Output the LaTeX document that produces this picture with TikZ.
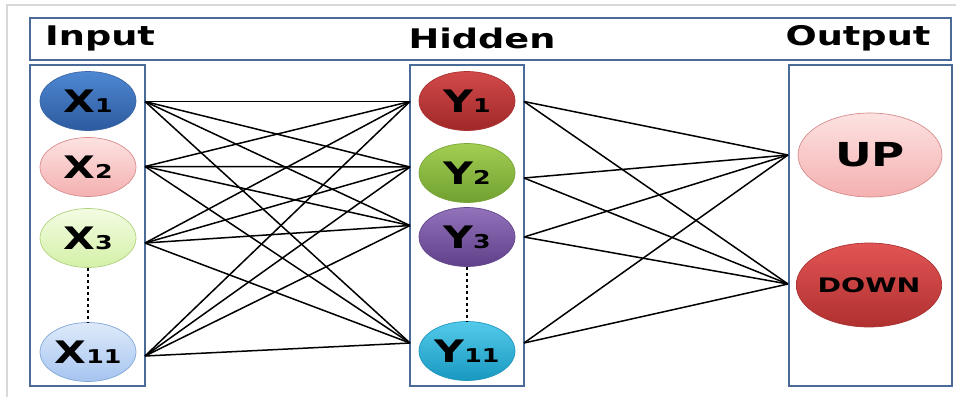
\documentclass[tikz,border=0pt]{standalone}
\usepackage{fontspec}
\usepackage{graphicx}
\setmainfont{DejaVu Sans}
\usetikzlibrary{shapes.geometric}
\definecolor{frameblue}{RGB}{74,106,154}
\definecolor{outergrey}{RGB}{216,216,216}
\newcommand{\lab}[2]{\scalebox{1.33}[1]{\bfseries\fontsize{31}{31}\selectfont #1\fontsize{19}{19}\selectfont #2}}
\tikzset{
  colbox/.style={draw=frameblue, line width=2.8pt},
  neuron/.style={ellipse, minimum width=96pt, minimum height=59pt, inner sep=0pt, line width=0.7pt},
  outneuron/.style={ellipse, minimum width=144pt, minimum height=84pt, inner sep=0pt, line width=0.7pt},
  head/.style={inner sep=0pt, font=\bfseries\fontsize{27}{27}\selectfont},
  wire/.style={black, line width=1.5pt},
  dots/.style={black, line width=2.8pt, dash pattern=on 3.5pt off 2.5pt},
}
\begin{document}
\begin{tikzpicture}[x=1pt,y=-1pt]
\useasboundingbox (0,0) rectangle (956,397);
% outer light frame
\draw[outergrey, line width=2.2pt] (7,397) -- (7,5) -- (956,5);
% header
\draw[colbox] (30,18) rectangle (951,60);
\node[head, anchor=west] (hin) at (45,38) {\scalebox{1.36}[1]{Input}};
\node[head] (hhid) at (482,38) {\scalebox{1.36}[1]{Hidden}};
\node[head] (hout) at (858,38) {\scalebox{1.36}[1]{Output}};
% column boxes
\draw[colbox] (30,65) rectangle (145,386);
\draw[colbox] (410,65) rectangle (524,386);
\draw[colbox] (789,65) rectangle (952,386);
% input neurons
\node[neuron, draw={rgb,255:red,58;green,100;blue,165}, top color={rgb,255:red,78;green,136;blue,210}, bottom color={rgb,255:red,44;green,90;blue,158}] (x1) at (88,101) {\lab{X}{1}};
\node[neuron, draw={rgb,255:red,215;green,140;blue,140}, top color={rgb,255:red,253;green,226;blue,226}, bottom color={rgb,255:red,244;green,176;blue,176}] (x2) at (88,167) {\lab{X}{2}};
\node[neuron, draw={rgb,255:red,176;green,208;blue,128}, top color={rgb,255:red,243;green,252;blue,226}, bottom color={rgb,255:red,212;green,240;blue,168}] (x3) at (88,238) {\lab{X}{3}};
\node[neuron, draw={rgb,255:red,127;green,166;blue,219}, top color={rgb,255:red,222;green,234;blue,250}, bottom color={rgb,255:red,166;green,196;blue,240}] (x4) at (88,352) {\lab{X}{11}};
\draw[dots] (x3.south) -- (x4.north);
% hidden neurons
\node[neuron, draw={rgb,255:red,170;green,50;blue,50}, top color={rgb,255:red,210;green,74;blue,74}, bottom color={rgb,255:red,160;green,40;blue,40}] (y1) at (467,101) {\lab{Y}{1}};
\node[neuron, draw={rgb,255:red,120;green,165;blue,55}, top color={rgb,255:red,162;green,206;blue,82}, bottom color={rgb,255:red,112;green,160;blue,48}] (y2) at (467,173) {\lab{Y}{2}};
\node[neuron, draw={rgb,255:red,100;green,70;blue,140}, top color={rgb,255:red,146;green,114;blue,186}, bottom color={rgb,255:red,96;green,64;blue,136}] (y3) at (467,237) {\lab{Y}{3}};
\node[neuron, draw={rgb,255:red,30;green,150;blue,190}, top color={rgb,255:red,84;green,202;blue,234}, bottom color={rgb,255:red,24;green,152;blue,192}] (y4) at (467,351) {\lab{Y}{11}};
\draw[dots] (y3.south) -- (y4.north);
% output neurons
\node[outneuron, draw={rgb,255:red,215;green,140;blue,140}, top color={rgb,255:red,253;green,226;blue,226}, bottom color={rgb,255:red,244;green,176;blue,176}] (up) at (870,155) {\scalebox{1.37}[1]{\bfseries\fontsize{33}{33}\selectfont UP}};
\node[outneuron, draw={rgb,255:red,170;green,50;blue,50}, top color={rgb,255:red,226;green,84;blue,84}, bottom color={rgb,255:red,176;green,48;blue,48}] (down) at (869,285) {\scalebox{1.42}[1]{\bfseries\fontsize{20}{20}\selectfont DOWN}};
% connector ports on box edges
\coordinate (a1) at (145,101.5);
\coordinate (a2) at (145,166.5);
\coordinate (a3) at (145,243);
\coordinate (a4) at (145,356);
\coordinate (b1) at (410,101.5);
\coordinate (b2) at (410,167);
\coordinate (b3) at (410,225.5);
\coordinate (b4) at (410,343);
\coordinate (c1) at (524,101.5);
\coordinate (c2) at (524,178);
\coordinate (c3) at (524,237);
\coordinate (c4) at (524,343);
\coordinate (d1) at (788,155);
\coordinate (d2) at (788,284);
\foreach \i in {1,2,3,4}{
  \foreach \j in {1,2,3,4}{
    \draw[wire] (a\i) -- (b\j);
  }
  \foreach \k in {1,2}{
    \draw[wire] (c\i) -- (d\k);
  }
}
\end{tikzpicture}
\end{document}
